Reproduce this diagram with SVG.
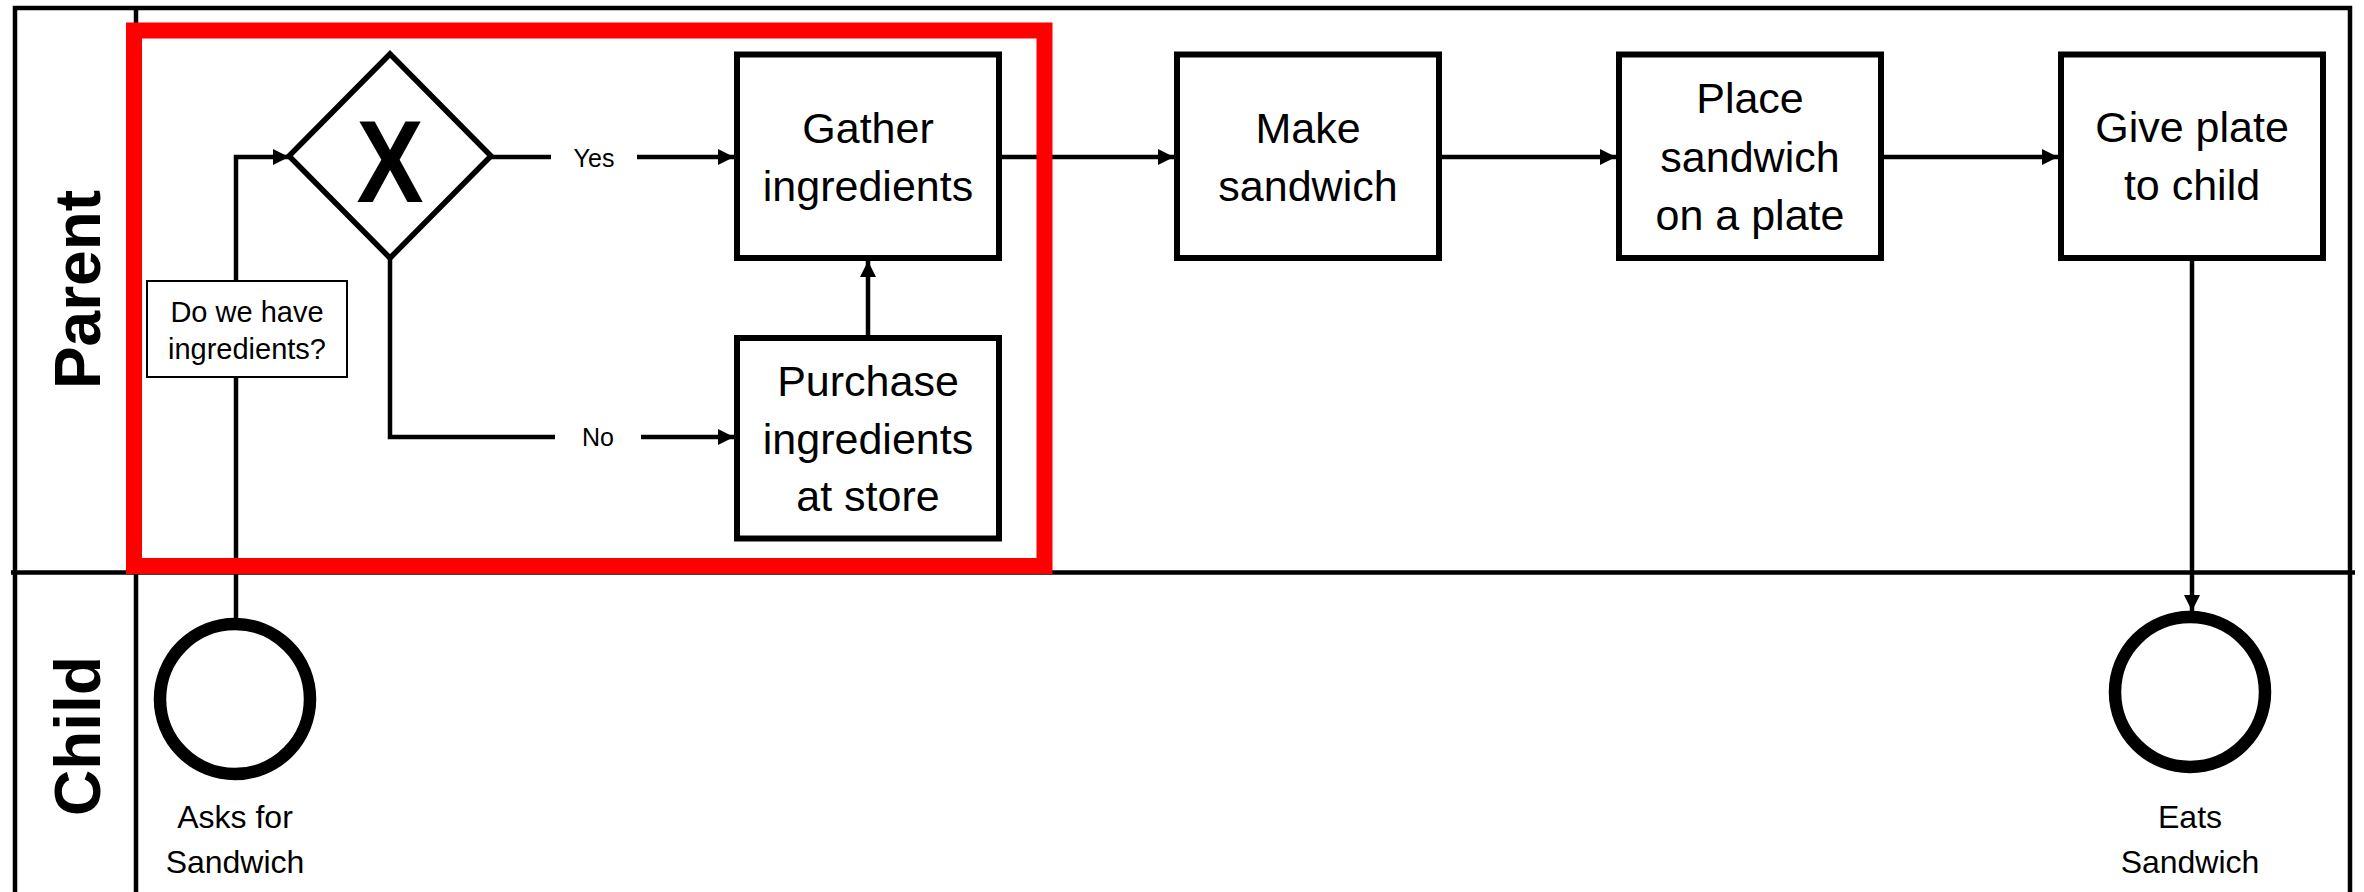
<svg xmlns="http://www.w3.org/2000/svg" width="2364" height="892" viewBox="0 0 2364 892">
<defs>
<style>
.lane{fill:none;stroke:#000;stroke-width:4.5}
.task{fill:#fff;stroke:#000;stroke-width:6}
.conn{fill:none;stroke:#000;stroke-width:4.5}
.arr{marker-end:url(#ah)}
.t{font-family:"Liberation Sans",Arial,sans-serif;fill:#000;text-anchor:middle}
.tb{font-size:43px}
.lbl{font-size:25px}
.ev{fill:#fff;stroke:#000;stroke-width:12.5}
.lanelbl{font-weight:bold;font-size:64px}
</style>
<marker id="ah" viewBox="0 0 16 16" refX="16" refY="8" markerWidth="16" markerHeight="16" markerUnits="userSpaceOnUse" orient="auto">
<path d="M0,0 L16,8 L0,16 Z" fill="#000"/>
</marker>
</defs>
<rect width="2364" height="892" fill="#fff"/>
<g id="lanes">
<rect class="lane" x="15" y="8" width="2335" height="900"/>
<path class="lane" d="M11,572.5 H2355"/>
<path class="lane" d="M136,8 V892"/>
<text class="t lanelbl" transform="translate(100,289.5) rotate(-90)">Parent</text>
<text class="t lanelbl" transform="translate(100,736) rotate(-90)" font-size="62">Child</text>
</g>
<g id="connectors">
<path class="conn arr" d="M236,618 V157 H289"/>
<path class="conn" d="M491,157 H551"/>
<path class="conn arr" d="M637,157 H734"/>
<path class="conn" d="M390,258 V437 H555"/>
<path class="conn arr" d="M641,437 H734"/>
<path class="conn arr" d="M868,335 V261"/>
<path class="conn arr" d="M999,157 H1174"/>
<path class="conn arr" d="M1439,157 H1616"/>
<path class="conn arr" d="M1881,157 H2058"/>
<path class="conn arr" d="M2192,258 V611"/>
<text class="t lbl" x="594" y="167">Yes</text>
<text class="t lbl" x="598" y="446">No</text>
</g>
<g id="question">
<rect x="147" y="281" width="200" height="96" fill="#fff" stroke="#000" stroke-width="2"/>
<text class="t" font-size="29" x="247" y="322">Do we have</text>
<text class="t" font-size="29" x="247" y="359">ingredients?</text>
</g>
<g id="gateway">
<path d="M390,54 L491,156 L390,258 L289,156 Z" fill="#fff" stroke="#000" stroke-width="5.5"/>
<text class="t" font-weight="bold" font-size="117" transform="translate(390,202) scale(0.86,1)">X</text>
</g>
<g id="gather">
<rect class="task" x="737" y="54.5" width="262" height="203.5"/>
<text class="t tb" x="868" y="143">Gather</text>
<text class="t tb" x="868" y="200.5">ingredients</text>
</g>
<g id="purchase">
<rect class="task" x="737" y="338" width="262" height="200.5"/>
<text class="t tb" x="868" y="396">Purchase</text>
<text class="t tb" x="868" y="453.5">ingredients</text>
<text class="t tb" x="868" y="511">at store</text>
</g>
<g id="make">
<rect class="task" x="1177" y="54.5" width="262" height="203.5"/>
<text class="t tb" x="1308" y="143">Make</text>
<text class="t tb" x="1308" y="200.5">sandwich</text>
</g>
<g id="place">
<rect class="task" x="1619" y="54.5" width="262" height="203.5"/>
<text class="t tb" x="1750" y="113">Place</text>
<text class="t tb" x="1750" y="171.5">sandwich</text>
<text class="t tb" x="1750" y="230">on a plate</text>
</g>
<g id="give">
<rect class="task" x="2061" y="54.5" width="262" height="203.5"/>
<text class="t tb" x="2192" y="142">Give plate</text>
<text class="t tb" x="2192" y="200">to child</text>
</g>
<g id="asks">
<circle class="ev" cx="235" cy="699" r="75"/>
<text class="t" font-size="32" x="235" y="828">Asks for</text>
<text class="t" font-size="32" x="235" y="873">Sandwich</text>
</g>
<g id="eats">
<circle class="ev" cx="2190" cy="692" r="75"/>
<text class="t" font-size="32" x="2190" y="828">Eats</text>
<text class="t" font-size="32" x="2190" y="873">Sandwich</text>
</g>
<g id="highlight">
<rect x="134" y="30.5" width="910.5" height="535.5" fill="none" stroke="#ff0000" stroke-width="16"/>
</g>
</svg>
